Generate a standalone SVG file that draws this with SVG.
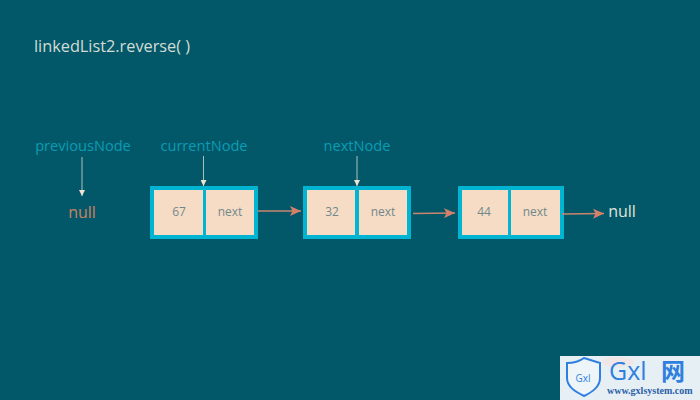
<svg xmlns="http://www.w3.org/2000/svg" width="700" height="400" viewBox="0 0 700 400">
<defs>
<style>
text{font-family:"Open Sans","Noto Sans","DejaVu Sans",sans-serif}
.lbl{font-size:14.600px;fill:#0a9cb4;text-anchor:middle}
.cell{fill:#f6dcc5}
.frame{fill:#00b4d2}
.val{font-size:12px;fill:#71898d;text-anchor:middle}
.c1{stroke:#c9866e;stroke-width:1.300;fill:none;marker-end:url(#ao)}
.c2{stroke:#a9c0bf;stroke-width:1;fill:none;marker-end:url(#al)}
</style>
<marker id="ao" markerUnits="userSpaceOnUse" markerWidth="12" markerHeight="10" refX="11" refY="5" orient="auto"><path d="M0 0L11 5L0 10L2.500 5Z" fill="#d5806a"/></marker>
<marker id="al" markerUnits="userSpaceOnUse" markerWidth="7" markerHeight="6" refX="6" refY="3" orient="auto"><path d="M0 0L6 3L0 6Z" fill="#f1e3d3"/></marker>
</defs>
<rect width="700" height="400" fill="#025868"/>
<text x="34" y="52" font-size="16.300" fill="#d3dcd6">linkedList2.reverse( )</text>
<g id="previousNode"><text class="lbl" x="83" y="151">previousNode</text></g>
<g id="currentNode"><text class="lbl" x="204" y="151">currentNode</text></g>
<g id="nextNode"><text class="lbl" x="357" y="151">nextNode</text></g>
<g id="null1"><text x="82" y="218" font-size="16" fill="#cf8065" text-anchor="middle">null</text></g>
<g id="node67"><rect class="frame" x="150" y="186" width="108" height="53"/><rect class="cell" x="154" y="190" width="49" height="45"/><rect class="cell" x="206" y="190" width="48" height="45"/><text class="val" x="179" y="216">67</text><text class="val" x="230" y="216">next</text></g>
<g id="node32"><rect class="frame" x="303" y="186" width="108" height="53"/><rect class="cell" x="307" y="190" width="48" height="45"/><rect class="cell" x="359" y="190" width="48" height="45"/><text class="val" x="332" y="216">32</text><text class="val" x="383" y="216">next</text></g>
<g id="node44"><rect class="frame" x="458" y="186" width="106" height="53"/><rect class="cell" x="462" y="190" width="46" height="45"/><rect class="cell" x="511" y="190" width="49" height="45"/><text class="val" x="484" y="216">44</text><text class="val" x="535" y="216">next</text></g>
<g id="null2"><text x="622" y="217" font-size="16" fill="#e0e4dc" text-anchor="middle">null</text></g>
<g id="connectors">
<path class="c2" d="M82 157V196"/>
<path class="c2" d="M203.500 156V186"/>
<path class="c2" d="M357 156V186"/>
<path class="c1" d="M258 211H301"/>
<path class="c1" d="M413 213.500L455 213"/>
<path class="c1" d="M562 214L604 213.500"/>
</g>
<g id="watermark">
<rect x="560" y="356" width="140" height="44" fill="#e6eff3"/>
<ellipse cx="618" cy="362" rx="16" ry="5" fill="#f1e6e6"/>
<path d="M584 358L600 363V378C600 387 592 392 584 396C576 392 567 387 567 378V363C574 363 580 361 584 358Z" fill="#eef5f8" stroke="#2f7fe0" stroke-width="2"/>
<text x="583" y="382" font-size="10" fill="#2f7fe0" text-anchor="middle">Gxl</text>
<text x="609" y="380" font-size="25" fill="#2f7fe0">Gxl</text>
<text x="661" y="380" font-size="24" font-weight="700" fill="#2f7fe0" style="font-family:'Noto Sans CJK SC',sans-serif">网</text>
<text x="607" y="394" font-size="10" font-weight="700" fill="#2b5fa8" style="font-family:'Liberation Serif',serif">www.gxlsystem.com</text>
</g>
</svg>
